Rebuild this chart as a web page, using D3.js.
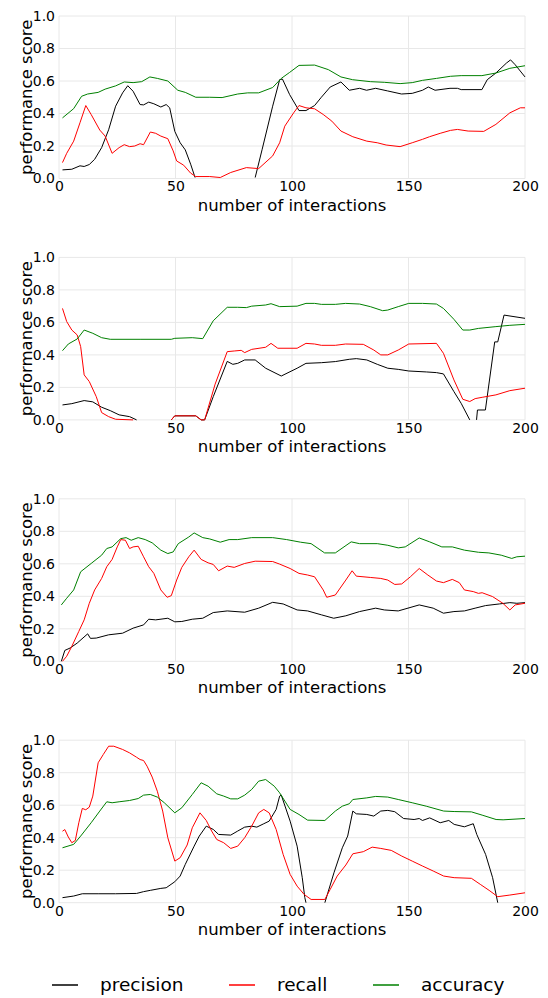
<!DOCTYPE html>
<html>
<head>
<meta charset="utf-8">
<script src="https://cdn.jsdelivr.net/npm/d3@7"></script>
<style>
  body { margin: 0; background: #fff; }
  text { font-family: "DejaVu Sans", sans-serif; fill: #000; }
  .grid line { stroke: #e8e8e8; stroke-width: 1; }
</style>
</head>
<body>
<div id="chart"></div>
<script>
// series names + colours
var seriesNames = ["precision", "recall", "accuracy"];
var seriesColors = ["#000000", "#ff0000", "#008000"];

var xTicks = [0, 50, 100, 150, 200];
var yTicks = [0, 0.2, 0.4, 0.6, 0.8, 1.0];

// panel 1 ([interaction, score], null = no value)
var p1Precision = [[1.5,0.053],[5.5,0.057],[9,0.078],[10.8,0.074],[13,0.086],[15.3,0.118],[18.3,0.19],[21.3,0.30],[24.3,0.445],[27.3,0.527],[29.5,0.571],[31.8,0.537],[34.8,0.455],[36.3,0.453],[38.5,0.47],[40.7,0.46],[43.7,0.44],[46,0.455],[47.5,0.435],[49.7,0.29],[52,0.22],[54.2,0.176],[56.5,0.088],[58.4,0.006],[70,null],[84.2,0.006],[87.2,0.18],[91.7,0.445],[94.7,0.608],[95.9,0.612],[99,0.516],[103,0.418],[106,0.418],[109.7,0.449],[112.6,0.50],[116.4,0.563],[121,0.594],[124.6,0.543],[129,0.555],[132,0.543],[135.9,0.555],[141,0.539],[147,0.52],[151.6,0.524],[156,0.543],[158.5,0.563],[161.4,0.543],[167.8,0.555],[171,0.555],[172.6,0.547],[181.5,0.547],[183.8,0.608],[187.5,0.649],[192,0.71],[193.8,0.73],[195.8,0.70],[200,0.625]];
var p1Recall = [[1.5,0.098],[3.3,0.155],[6.3,0.23],[9,0.343],[11.5,0.449],[13.8,0.394],[17.5,0.298],[19.8,0.261],[22.8,0.155],[25.8,0.19],[28,0.208],[30.3,0.196],[32.5,0.20],[34.8,0.214],[36.3,0.208],[39.2,0.286],[41.5,0.278],[43.7,0.261],[46.7,0.245],[49,0.17],[50.5,0.108],[53.5,0.082],[56.5,0.033],[58.7,0.012],[64.7,0.012],[69.2,0.006],[73.7,0.037],[80.4,0.067],[85.7,0.061],[91.7,0.139],[94.7,0.22],[96.9,0.322],[100.7,0.404],[103,0.449],[106,0.435],[109.7,0.429],[113.4,0.394],[117.1,0.353],[121,0.292],[126.1,0.257],[132.1,0.23],[136.6,0.22],[140.4,0.206],[146.4,0.196],[151.6,0.22],[156,0.241],[159,0.257],[163.6,0.278],[168,0.296],[171,0.302],[175.6,0.292],[182.3,0.29],[187.5,0.333],[193.5,0.404],[198,0.435],[200,0.435]];
var p1Accuracy = [[1.5,0.373],[6.3,0.43],[9.7,0.506],[12.3,0.52],[16.8,0.53],[19.8,0.55],[24.3,0.57],[28,0.594],[31.8,0.59],[35.5,0.596],[39,0.625],[42.2,0.616],[46.7,0.60],[51,0.543],[54.2,0.53],[58.7,0.50],[64.7,0.50],[70,0.498],[76.7,0.52],[81,0.527],[85.7,0.527],[91.7,0.56],[95.4,0.616],[99,0.653],[103,0.696],[109.7,0.698],[115.6,0.67],[121,0.625],[126,0.608],[133.6,0.596],[139.6,0.592],[146.4,0.584],[151.6,0.59],[156,0.604],[162,0.616],[168,0.629],[172.6,0.633],[181.5,0.633],[187.5,0.649],[193.5,0.678],[200,0.694]];

// panel 2
var p2Precision = [[1.5,0.092],[5.5,0.10],[10.8,0.119],[14.5,0.111],[18.3,0.078],[22,0.057],[25.8,0.031],[30.3,0.02],[33.3,0],[40,null],[48.2,0],[49.7,0.025],[58.7,0.025],[61,0],[62.5,0],[66.2,0.143],[72.2,0.36],[74.6,0.342],[76.7,0.348],[79.7,0.369],[84.2,0.369],[88.7,0.318],[95.4,0.27],[102.2,0.318],[106,0.348],[112.6,0.352],[118.6,0.359],[124.6,0.373],[127.6,0.377],[132.1,0.369],[136.6,0.342],[141.1,0.318],[145.6,0.311],[150.1,0.301],[157.8,0.295],[162,0.291],[165,0.283],[169.5,0.174],[172.6,0.102],[176.3,0],[178,null],[179.2,0],[179.6,0.061],[183,0.061],[187,0.48],[188.3,0.48],[191,0.645],[200,0.625]];
var p2Recall = [[1.5,0.686],[3.3,0.605],[5.5,0.553],[7.8,0.523],[9.3,0.451],[10.8,0.277],[13,0.236],[16,0.143],[18.3,0.045],[21.3,0.02],[24.3,0.004],[31.8,0],[40,null],[48.2,0],[49.7,0.025],[58.7,0.025],[61,0],[62.5,0],[67,0.22],[72.2,0.42],[75.2,0.424],[78.2,0.428],[79.7,0.414],[82.7,0.434],[88.7,0.447],[91,0.471],[93.9,0.441],[102.2,0.441],[106,0.471],[109.7,0.467],[112.6,0.459],[118.6,0.459],[123,0.467],[130.6,0.465],[135.1,0.43],[138.1,0.40],[141.1,0.40],[145.6,0.43],[150.1,0.467],[162,0.471],[165,0.41],[169.5,0.246],[173.3,0.127],[176.3,0.113],[178.6,0.131],[181.6,0.139],[187.5,0.154],[193.5,0.18],[200,0.195]];
var p2Accuracy = [[1.5,0.426],[4,0.467],[7.8,0.498],[10.8,0.553],[14.5,0.533],[18.3,0.506],[22,0.496],[34.8,0.496],[48.2,0.496],[49.7,0.502],[57.2,0.506],[61.7,0.50],[66.2,0.61],[72.2,0.693],[76.7,0.693],[80.4,0.691],[82.7,0.70],[88.7,0.707],[91,0.715],[94.7,0.697],[102.2,0.70],[106,0.717],[109.7,0.717],[112.6,0.711],[118.6,0.711],[123,0.717],[129,0.713],[133.6,0.697],[138.9,0.672],[141.1,0.676],[145.6,0.697],[150.1,0.717],[156,0.717],[162,0.713],[165,0.686],[169.5,0.619],[173.3,0.553],[176.3,0.553],[180,0.563],[187.5,0.574],[193.5,0.582],[200,0.588]];

// panel 3
var p3Precision = [[1,0],[2.5,0.067],[4.8,0.082],[7.8,0.112],[12.3,0.169],[13.5,0.141],[16,0.143],[21.3,0.163],[27.3,0.173],[31.8,0.204],[36.3,0.224],[38.5,0.259],[41.5,0.255],[46.7,0.265],[49.7,0.243],[52.7,0.245],[57.2,0.259],[61.7,0.265],[66.2,0.30],[72.2,0.31],[79.7,0.302],[85.7,0.327],[91.7,0.363],[96.2,0.353],[102.2,0.316],[106.7,0.31],[112.6,0.286],[117.9,0.265],[123.1,0.28],[129,0.306],[135.9,0.327],[139.6,0.316],[145.6,0.31],[154.6,0.347],[160.6,0.327],[165,0.296],[169.5,0.306],[174,0.31],[178.6,0.327],[183.1,0.343],[189,0.353],[193.5,0.361],[196.5,0.357],[200,0.361]];
var p3Recall = [[1.5,0],[3.3,0.031],[5.5,0.092],[8.5,0.184],[10.8,0.255],[13,0.357],[15.3,0.439],[18.3,0.51],[20.5,0.582],[22.8,0.627],[25,0.704],[26.5,0.749],[28.5,0.745],[30.3,0.694],[31.8,0.704],[34,0.708],[36.3,0.643],[38.5,0.582],[40.7,0.541],[43.7,0.439],[46.4,0.394],[48.2,0.404],[50.5,0.50],[52.7,0.578],[55.7,0.643],[58,0.684],[61,0.627],[64,0.606],[66.2,0.596],[68.5,0.557],[72.2,0.586],[75.2,0.578],[79.7,0.602],[84.2,0.616],[91.7,0.614],[94.7,0.598],[99.2,0.571],[103,0.541],[106.7,0.531],[109.7,0.52],[113.4,0.439],[114.9,0.394],[118.6,0.408],[123.1,0.50],[125.8,0.557],[127.6,0.524],[133.6,0.516],[138.1,0.51],[141.1,0.50],[144.1,0.473],[147.1,0.476],[150.8,0.52],[154.6,0.571],[158.3,0.531],[162,0.494],[165,0.484],[168.8,0.504],[171.8,0.484],[174,0.439],[177.8,0.429],[180,0.418],[181.6,0.422],[186.1,0.398],[190.5,0.357],[193.5,0.316],[195.8,0.347],[200,0.357]];
var p3Accuracy = [[1,0.347],[3.3,0.388],[6.3,0.439],[9.3,0.551],[13.8,0.602],[18.3,0.653],[20.5,0.694],[22.8,0.704],[26.5,0.755],[28.8,0.761],[31,0.745],[34,0.761],[37,0.749],[40,0.729],[43.7,0.684],[46.7,0.663],[49,0.673],[51.2,0.724],[55.7,0.765],[58,0.79],[61.7,0.761],[64.7,0.753],[69.2,0.733],[73,0.749],[76.7,0.749],[82.7,0.761],[91.7,0.761],[97.7,0.749],[103.7,0.733],[108.2,0.724],[114,0.667],[118.6,0.667],[125.4,0.735],[129,0.724],[136.6,0.724],[141.1,0.714],[145.6,0.698],[148.6,0.704],[154.6,0.759],[159.1,0.735],[164.3,0.704],[168.8,0.704],[174,0.684],[180,0.671],[184.5,0.667],[189.8,0.653],[194.3,0.633],[196.5,0.643],[200,0.647]];

// panel 4
var p4Precision = [[1.5,0.031],[6.3,0.041],[10,0.055],[16.8,0.055],[24.3,0.055],[33.3,0.057],[36.3,0.068],[39.2,0.076],[43.7,0.088],[46,0.092],[49.7,0.129],[52,0.164],[54.2,0.236],[58,0.348],[60.2,0.41],[63.2,0.471],[66.2,0.451],[68.5,0.42],[73.7,0.416],[76.7,0.441],[79.7,0.465],[82.7,0.471],[84.9,0.465],[87.9,0.486],[90.2,0.502],[93.2,0.574],[94.7,0.656],[95.4,0.662],[99.2,0.502],[102.2,0.348],[104.4,0.154],[105.5,0.031],[106,0],[110,null],[114.1,0],[118,0.184],[121.6,0.338],[123.9,0.41],[126.1,0.564],[127.6,0.547],[132.1,0.543],[135.1,0.533],[138.1,0.564],[141.1,0.568],[144.1,0.56],[147.9,0.518],[152.4,0.512],[154.6,0.518],[156,0.506],[159.1,0.522],[163.6,0.492],[167.3,0.506],[169.6,0.482],[174,0.467],[177.8,0.486],[179.3,0.42],[183.1,0.297],[186.1,0.154],[188.3,0]];
var p4Recall = [[1.5,0.44],[2.5,0.45],[4,0.404],[5.5,0.369],[7,0.383],[8.5,0.492],[10,0.58],[11.5,0.572],[13,0.588],[14.5,0.656],[16.8,0.861],[19,0.912],[21.3,0.963],[23.5,0.963],[27.3,0.943],[30.3,0.922],[33.3,0.895],[34.8,0.881],[36.3,0.875],[37.8,0.84],[40,0.773],[42.2,0.686],[44.5,0.564],[46.7,0.40],[49.7,0.256],[52,0.277],[55,0.355],[57.2,0.461],[60.5,0.553],[63.2,0.506],[65.5,0.441],[67.7,0.389],[70.7,0.369],[73.7,0.334],[76.7,0.348],[79.7,0.40],[82.7,0.471],[85.7,0.553],[87.9,0.574],[90.2,0.553],[93.2,0.451],[96.2,0.297],[99.2,0.174],[102.2,0.102],[105.2,0.051],[108.2,0.02],[114.1,0.02],[116.4,0.082],[119.4,0.164],[123.1,0.232],[126.1,0.301],[130.6,0.314],[134.4,0.342],[138.1,0.334],[142.6,0.322],[147.1,0.287],[151.6,0.256],[156.1,0.225],[160.6,0.195],[165.1,0.164],[169.6,0.154],[177,0.15],[180.8,0.113],[184.6,0.076],[188.3,0.037],[193.5,0.047],[200,0.061]];
var p4Accuracy = [[1.5,0.338],[6.3,0.359],[9.3,0.41],[13.8,0.492],[17.5,0.564],[20.5,0.621],[22.8,0.615],[25.8,0.621],[30.3,0.629],[34,0.641],[36.3,0.662],[39.2,0.666],[42.2,0.65],[45.2,0.615],[49.7,0.553],[52.7,0.584],[57.2,0.666],[61,0.738],[64,0.717],[67.7,0.67],[70.7,0.656],[73.7,0.639],[76.7,0.639],[79.7,0.662],[82.7,0.697],[85.7,0.748],[88.7,0.758],[92.4,0.717],[94.7,0.676],[99.2,0.574],[103,0.543],[106.7,0.508],[114.1,0.506],[118.6,0.564],[121.6,0.594],[124.6,0.609],[126.1,0.635],[132.1,0.645],[135.9,0.654],[141.1,0.65],[145.6,0.635],[151.6,0.615],[157.6,0.594],[165.1,0.564],[169.6,0.561],[177,0.559],[181.6,0.539],[187.6,0.512],[190.6,0.51],[200,0.518]];

var panels = [
  [p1Precision, p1Recall, p1Accuracy],
  [p2Precision, p2Recall, p2Accuracy],
  [p3Precision, p3Recall, p3Accuracy],
  [p4Precision, p4Recall, p4Accuracy]
];

var width = 548, height = 998;
var left = 59, right = 525;
var firstTop = 16, plotH = 162.5, panelStep = 241.4;

var svg = d3.select("#chart").append("svg")
  .attr("width", width)
  .attr("height", height);

var x = d3.scaleLinear().domain([0, 200]).range([left, right]);
var y = d3.scaleLinear().domain([0, 1]).range([plotH, 0]);

var line = d3.line()
  .defined(function(d) { return d[1] != null; })
  .x(function(d) { return x(d[0]); })
  .y(function(d) { return y(d[1]); });

panels.forEach(function(series, i) {
  var g = svg.append("g").attr("transform", "translate(0," + (firstTop + i * panelStep) + ")");

  // grid
  var grid = g.append("g").attr("class", "grid");
  grid.selectAll("line.h").data(yTicks).enter().append("line")
    .attr("x1", left).attr("x2", right)
    .attr("y1", function(d) { return y(d); })
    .attr("y2", function(d) { return y(d); });
  grid.selectAll("line.v").data(xTicks).enter().append("line")
    .attr("y1", 0).attr("y2", plotH)
    .attr("x1", function(d) { return x(d); })
    .attr("x2", function(d) { return x(d); });

  // axes, no spines or tick marks
  var yAxis = g.append("g")
    .attr("transform", "translate(" + (left - 4) + ",0)")
    .call(d3.axisLeft(y).tickValues(yTicks).tickSize(0).tickPadding(0).tickFormat(d3.format(".1f")));
  var xAxis = g.append("g")
    .attr("transform", "translate(0," + plotH + ")")
    .call(d3.axisBottom(x).tickValues(xTicks).tickSize(0).tickPadding(3).tickFormat(d3.format("d")));
  [yAxis, xAxis].forEach(function(a) {
    a.select(".domain").remove();
    a.selectAll("text").style("font-family", "DejaVu Sans").style("font-size", "14px").attr("fill", "#000");
  });

  g.append("text")
    .attr("x", (left + right) / 2)
    .attr("y", plotH + 32)
    .attr("text-anchor", "middle")
    .style("font-size", "16.5px")
    .text("number of interactions");

  g.append("text")
    .attr("transform", "translate(31.5," + (plotH / 2) + ") rotate(-90)")
    .attr("text-anchor", "middle")
    .style("font-size", "16.5px")
    .text("performance score");

  g.selectAll("path.series").data(series).enter().append("path")
    .attr("class", "series")
    .attr("fill", "none")
    .attr("stroke", function(d, k) { return seriesColors[k]; })
    .attr("stroke-width", 1)
    .attr("d", line);
});

// legend
var legendX = [52, 229, 373];
var legend = svg.append("g").attr("transform", "translate(0,985)");
var item = legend.selectAll("g").data(seriesNames).enter().append("g")
  .attr("transform", function(d, i) { return "translate(" + legendX[i] + ",0)"; });
item.append("line")
  .attr("x1", 0).attr("x2", 26).attr("y1", 0).attr("y2", 0)
  .attr("stroke", function(d, i) { return seriesColors[i]; })
  .attr("stroke-width", 1.5);
item.append("text")
  .attr("x", 48).attr("y", 0).attr("dy", "0.35em")
  .style("font-size", "18.5px")
  .text(function(d) { return d; });
</script>
</body>
</html>
